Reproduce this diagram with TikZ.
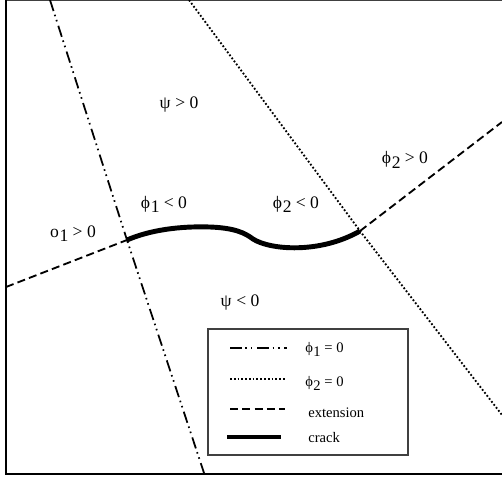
\documentclass[tikz,border=0pt]{standalone}
\usepackage{fontspec}
\setmainfont{Liberation Serif}
\usepackage{xcolor}
\usetikzlibrary{positioning}
\newcommand{\lvl}[3]{#1\raisebox{-0.6ex}{\kern0.03em #2}\kern0.25em #3}
\begin{document}
\begin{tikzpicture}[
  x=0.02cm, y=-0.02cm,
  every node/.style={font=\fontsize{10}{12}\selectfont, inner sep=0pt, anchor=base},
  keylabel/.style={font=\fontsize{8.3}{10}\selectfont, anchor=base west},
  phione/.style={line width=1pt, dash pattern=on 6.6pt off 2.2pt on 0.9pt off 2.2pt on 0.9pt off 2.6pt},
  phitwo/.style={line width=1.05pt, dash pattern=on 1pt off 1.15pt},
  extline/.style={line width=1.05pt, dash pattern=on 4.6pt off 2.4pt},
  crackline/.style={line width=2.8pt},
  keybox/.style={draw, line width=0.9pt, black!75}
]
\useasboundingbox (0,0) rectangle (502,479);
\draw[line width=1.1pt, black!75] (6,0) -- (502,0);
\draw[line width=1.2pt] (6,0) -- (6,474) -- (502,474);
\coordinate (tipa) at (127,240);
\coordinate (tipb) at (360,231);
\coordinate (phiatop) at (50,0);
\coordinate (phiabot) at (204,473);
\coordinate (phibtop) at (189,0);
\coordinate (phibbot) at (502,415);
\coordinate (exta) at (6,287);
\coordinate (extb) at (502,122);
\draw[phione] (phiatop) -- (tipa) -- (phiabot);
\draw[phitwo] (phibtop) -- (tipb) -- (phibbot);
\draw[extline] (exta) -- (tipa);
\draw[extline] (tipb) -- (extb);
\draw[crackline] (tipa) .. controls (150,230) and (180,226) .. (210,227)
  .. controls (235,228) and (245,233) .. (253,239)
  .. controls (270,250) and (320,254) .. (tipb);
\node (psipos) at (179,109) {\lvl{ψ}{}{> 0}};
\node (psineg) at (240,306) {\lvl{ψ}{}{< 0}};
\node (phianeg) at (164,208) {\lvl{ϕ}{1}{< 0}};
\node (phibneg) at (296,208) {\lvl{ϕ}{2}{< 0}};
\node (phiapos) at (73,237) {\lvl{o}{1}{> 0}};
\node (phibpos) at (405,164) {\lvl{ϕ}{2}{> 0}};
\node[keybox, minimum width=4cm, minimum height=2.52cm, anchor=north west] (keyframe) at (207,328) {};
\coordinate (keyal) at (230,348); \coordinate (keyar) at (287,348);
\coordinate (keybl) at (230,379); \coordinate (keybr) at (285,379);
\coordinate (keycl) at (230,409); \coordinate (keycr) at (285,409);
\coordinate (keydl) at (227,437); \coordinate (keydr) at (281,437);
\draw[phione] (keyal) -- (keyar);
\draw[phitwo] (keybl) -- (keybr);
\draw[extline] (keycl) -- (keycr);
\draw[crackline, line width=2.6pt] (keydl) -- (keydr);
\node[keylabel] (keya) at (305,352) {\lvl{ϕ}{1}{= 0}};
\node[keylabel] (keyb) at (305,386) {\lvl{ϕ}{2}{= 0}};
\node[keylabel] (keyc) at (308,417) {extension};
\node[keylabel] (keyd) at (308,442) {crack};
\end{tikzpicture}
\end{document}
